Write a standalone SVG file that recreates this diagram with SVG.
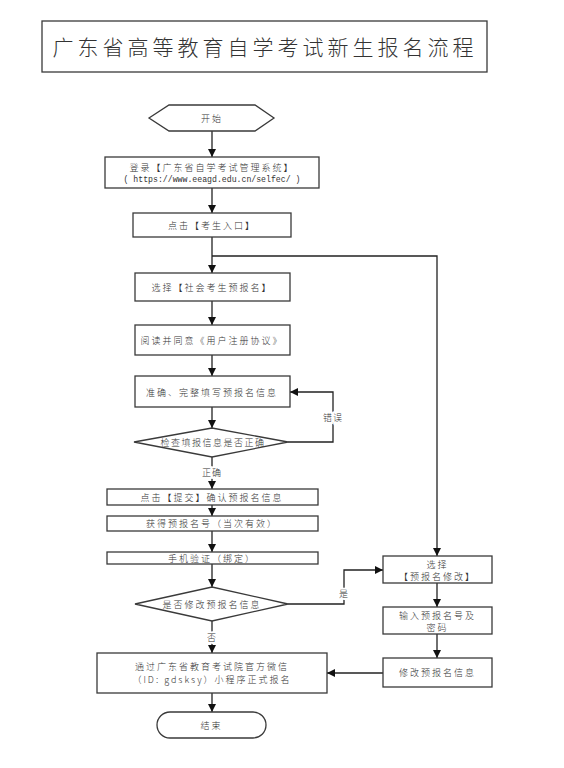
<svg xmlns="http://www.w3.org/2000/svg" width="564" height="768" viewBox="0 0 564 768">
<style>
.box{fill:#fff;stroke:#3a3a3a;stroke-width:1.3}
.t{font-family:"Noto Sans CJK SC","Noto Sans",sans-serif;font-size:9px;font-weight:300;fill:#333;text-anchor:middle;dominant-baseline:central;letter-spacing:2px}
.lbl{font-family:"Noto Sans CJK SC","Noto Sans",sans-serif;font-size:9px;font-weight:300;fill:#333;text-anchor:middle;dominant-baseline:central;letter-spacing:1px;stroke:#fff;stroke-width:4;paint-order:stroke}
.ln{fill:none;stroke:#222;stroke-width:1.3}
</style>
<defs>
<marker id="ah" viewBox="0 0 10 10" refX="10" refY="5" markerWidth="8" markerHeight="8" markerUnits="userSpaceOnUse" orient="auto">
<path d="M0,0 L10,5 L0,10 z" fill="#111"/>
</marker>
</defs>
<rect width="564" height="768" fill="#fff"/>
<g id="title">
<rect class="box" x="42" y="21" width="445" height="51"/>
<text x="265" y="46" style="font-family:'Noto Sans CJK SC',sans-serif;font-size:21px;font-weight:300;fill:#333;text-anchor:middle;dominant-baseline:central;letter-spacing:4px">广东省高等教育自学考试新生报名流程</text>
</g>
<g id="connectors">
<path class="ln" d="M212,131 V157" marker-end="url(#ah)"/>
<path class="ln" d="M212,188 V213" marker-end="url(#ah)"/>
<path class="ln" d="M212,237 V273" marker-end="url(#ah)"/>
<path class="ln" d="M212,256 H437 V556" marker-end="url(#ah)"/>
<path class="ln" d="M212,301 V325" marker-end="url(#ah)"/>
<path class="ln" d="M212,355 V376" marker-end="url(#ah)"/>
<path class="ln" d="M212,407 V428" marker-end="url(#ah)"/>
<path class="ln" d="M288,442 H333 V392 H290" marker-end="url(#ah)"/>
<text class="lbl" x="333" y="417">错误</text>
<path class="ln" d="M212,457 V489" marker-end="url(#ah)"/>
<text class="lbl" x="212" y="472">正确</text>
<path class="ln" d="M212,505 V516" marker-end="url(#ah)"/>
<path class="ln" d="M212,531 V552" marker-end="url(#ah)"/>
<path class="ln" d="M212,564 V587" marker-end="url(#ah)"/>
<path class="ln" d="M288,604 H344 V570 H383" marker-end="url(#ah)"/>
<text class="lbl" x="344" y="593">是</text>
<path class="ln" d="M212,621 V653" marker-end="url(#ah)"/>
<text class="lbl" x="212" y="637">否</text>
<path class="ln" d="M437,583 V607" marker-end="url(#ah)"/>
<path class="ln" d="M437,634 V658" marker-end="url(#ah)"/>
<path class="ln" d="M383,673 H327" marker-end="url(#ah)"/>
<path class="ln" d="M212,693 V712" marker-end="url(#ah)"/>
</g>
<g id="start">
<polygon class="box" points="149,118 169,105 255,105 274,118 255,131 169,131"/>
<text class="t" x="212" y="118">开始</text>
</g>
<g id="login">
<rect class="box" x="105" y="157" width="214" height="31"/>
<text class="t" x="212" y="167">登录【广东省自学考试管理系统】</text>
<text x="212" y="179" style="font-family:'Liberation Mono',monospace;font-size:8.2px;fill:#333;text-anchor:middle;dominant-baseline:central">( https://www.eeagd.edu.cn/selfec/ )</text>
</g>
<g id="entry">
<rect class="box" x="133" y="213" width="158" height="24"/>
<text class="t" x="212" y="225">点击【考生入口】</text>
</g>
<g id="select-social">
<rect class="box" x="135" y="273" width="155" height="28"/>
<text class="t" x="212" y="287">选择【社会考生预报名】</text>
</g>
<g id="agree">
<rect class="box" x="135" y="325" width="155" height="30"/>
<text class="t" x="212" y="340">阅读并同意《用户注册协议》</text>
</g>
<g id="fill">
<rect class="box" x="135" y="376" width="155" height="31"/>
<text class="t" x="212" y="392">准确、完整填写预报名信息</text>
</g>
<g id="check">
<polygon class="box" points="134,442 212,428 288,442 212,457"/>
<text class="t" x="213" y="442" style="letter-spacing:1.5px">检查填报信息是否正确</text>
</g>
<g id="submit">
<rect class="box" x="107" y="489" width="211" height="16"/>
<text class="t" x="212" y="497">点击【提交】确认预报名信息</text>
</g>
<g id="get-number">
<rect class="box" x="107" y="516" width="211" height="15"/>
<text class="t" x="212" y="523.5">获得预报名号（当次有效）</text>
</g>
<g id="phone">
<rect class="box" x="107" y="552" width="211" height="12"/>
<text class="t" x="212" y="558">手机验证（绑定）</text>
</g>
<g id="modify-q">
<polygon class="box" points="135,604 212,587 288,604 212,621"/>
<text class="t" x="212" y="604">是否修改预报名信息</text>
</g>
<g id="select-modify">
<rect class="box" x="383" y="556" width="109" height="27"/>
<text class="t" x="437.5" y="564">选择</text>
<text class="t" x="437.5" y="576">【预报名修改】</text>
</g>
<g id="input-number">
<rect class="box" x="383" y="607" width="109" height="27"/>
<text class="t" x="437.5" y="615">输入预报名号及</text>
<text class="t" x="437.5" y="627">密码</text>
</g>
<g id="modify-info">
<rect class="box" x="383" y="658" width="109" height="29"/>
<text class="t" x="437.5" y="672.5">修改预报名信息</text>
</g>
<g id="formal">
<rect class="box" x="97" y="653" width="230" height="40"/>
<text class="t" x="212" y="666">通过广东省教育考试院官方微信</text>
<text class="t" x="212" y="679">（ID: gdsksy）小程序正式报名</text>
</g>
<g id="end">
<rect class="box" x="157" y="712" width="109" height="26" rx="13" ry="13"/>
<text class="t" x="211.5" y="725">结束</text>
</g>
</svg>
